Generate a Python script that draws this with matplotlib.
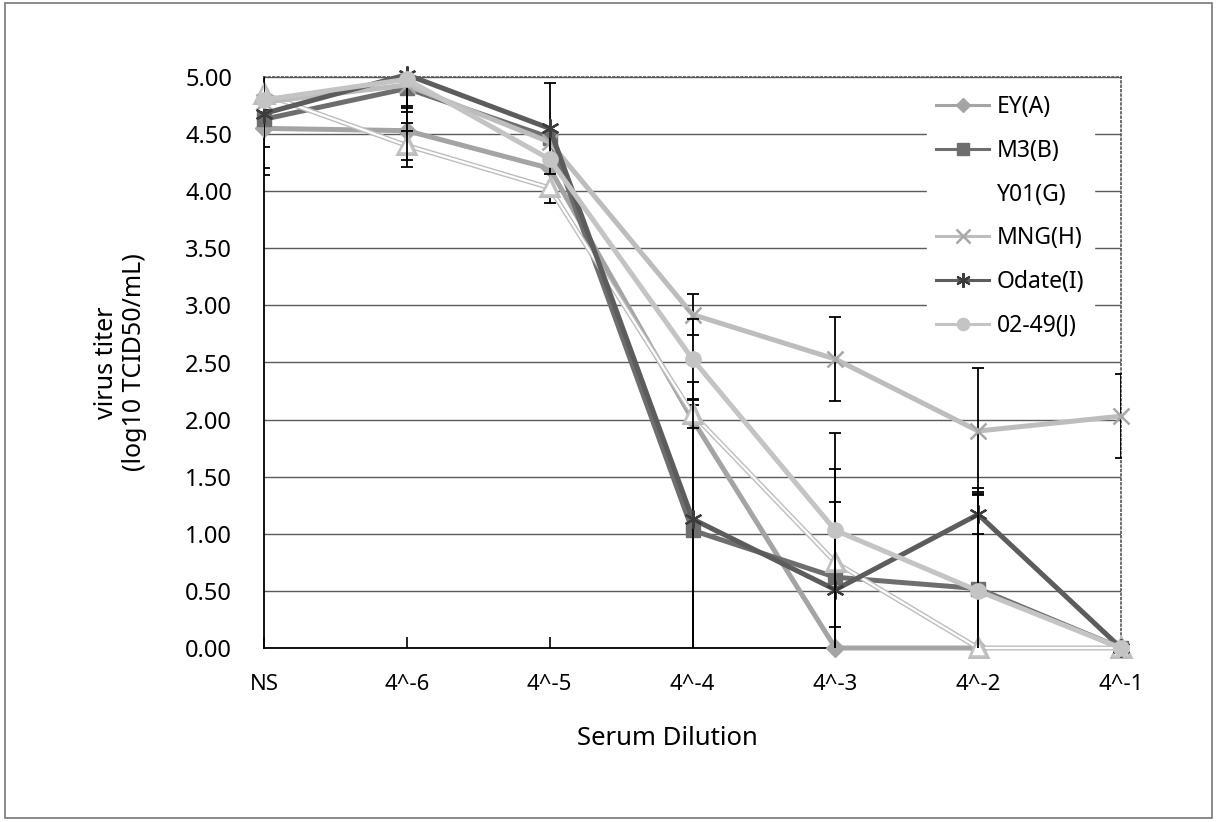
import numpy as np
import matplotlib
matplotlib.use("Agg")
import matplotlib.pyplot as plt
import matplotlib.patheffects as pe
from matplotlib.patches import Rectangle

plt.rcParams['font.family'] = ['Noto Sans', 'DejaVu Sans']

categories = ["NS", "4^-6", "4^-5", "4^-4", "4^-3", "4^-2", "4^-1"]

EY_A = [4.55, 4.53, 4.20, 2.00, 0.00, 0.00, np.nan]
M3_B = [4.63, 4.90, 4.47, 1.03, 0.62, 0.52, 0.00]
Y01_G = [4.85, 4.40, 4.03, 2.05, 0.75, 0.00, 0.00]
MNG_H = [4.78, 4.93, 4.43, 2.92, 2.53, 1.90, 2.03]
Odate_I = [4.68, 5.02, 4.55, 1.13, 0.51, 1.17, 0.00]
J0249 = [4.80, 4.98, 4.28, 2.53, 1.03, 0.50, 0.00]

EY_err = [0.16, 0.20, 0.30, 0, 0, 0, 0]
M3_err = [0.43, 0.21, 0, 1.10, 0.95, 0.85, 0]
Y01_err = [0, 0.13, 0, 0.12, 0, 0, 0]
MNG_err = [0, 0.18, 0, 0.18, 0.37, 0.55, 0.37]
Odate_err = [0.54, 0.42, 0.40, 1.20, 0.77, 0.17, 0]
J_err = [0, 0.77, 0, 0.35, 0.85, 0.90, 0]

fig = plt.figure(figsize=(12.17, 8.22), dpi=100)
ax = fig.add_axes([264/1217, 1-648/822, (1121-264)/1217, (648-77)/822])

x = np.arange(len(categories))

series = [
    ("EY(A)", EY_A, EY_err, dict(color="#a4a4a4", marker="D", ms=9, mfc="#a4a4a4", mec="#a4a4a4")),
    ("M3(B)", M3_B, M3_err, dict(color="#6e6e6e", marker="s", ms=10, mfc="#6e6e6e", mec="#6e6e6e")),
    ("Y01(G)", Y01_G, Y01_err, dict(color="white", marker="^", ms=11, mfc="white", mec="#c4c4c4", mew=1.2)),
    ("MNG(H)", MNG_H, MNG_err, dict(color="#bdbdbd", marker="x", ms=12, mec="#a8a8a8", mew=1.8)),
    ("Odate(I)", Odate_I, Odate_err, dict(color="#5c5c5c", marker=(6, 2, 0), ms=13, mec="#3c3c3c", mew=1.6)),
    ("02-49(J)", J0249, J_err, dict(color="#c4c4c4", marker="o", ms=11, mfc="#c4c4c4", mec="#c4c4c4")),
]

for i, (lab, vals, err, st) in enumerate(series):
    vals = np.array(vals, dtype=float)
    err = np.array(err, dtype=float)
    mask = err > 0
    ax.errorbar(x[mask], vals[mask], yerr=err[mask], fmt="none", ecolor="black",
                elinewidth=1.3, capsize=4.5, capthick=1.3, zorder=3 + i)
    lw = 1.6 if lab == "Y01(G)" else 3.6
    ln, = ax.plot(x, vals, lw=lw, label=lab, clip_on=False, zorder=4 + i, **st)
    if lab == "Y01(G)":
        ln.set_path_effects([pe.Stroke(linewidth=3.6, foreground="#bdbdbd"), pe.Normal()])

ax.set_xlim(0, 6)
ax.set_ylim(0, 5)
yt = np.arange(0, 5.01, 0.5)
ax.set_yticks(yt)
ax.set_yticklabels([f"{v:.2f}" for v in yt])
ax.set_xticks(x)
ax.set_xticklabels(categories)
ax.tick_params(axis="y", length=0, pad=23, labelsize=17)
ax.tick_params(axis="x", direction="in", length=8, width=1.2, pad=19, labelsize=16)
ax.yaxis.grid(True, color="#5a5a5a", lw=1.0)
ax.set_axisbelow(True)
for s in ["left", "bottom"]:
    ax.spines[s].set_color("black")
    ax.spines[s].set_linewidth(1.3)
for s in ["top", "right"]:
    ax.spines[s].set_color("#555555")
    ax.spines[s].set_linestyle(":")
    ax.spines[s].set_linewidth(1.2)

ax.set_xlabel("Serum Dilution", fontsize=18.5)
ax.xaxis.set_label_coords((667 - 264) / 857, -(726 - 648) / 571)
ax.set_ylabel("virus titer\n(log10 TCID50/mL)", fontsize=18, linespacing=1.15)
ax.yaxis.set_label_coords(-(264 - 147) / 857, 0.5)

leg = ax.legend(loc="upper left", bbox_to_anchor=(927/1217, 1-86/822),
                bbox_transform=fig.transFigure, frameon=True, fancybox=False,
                edgecolor="white", facecolor="white", framealpha=1.0,
                fontsize=16.5, handlelength=2.3, handletextpad=0.35,
                labelspacing=0.86, borderpad=0.4, borderaxespad=0)
for lh, (lab, vals, err, st) in zip(leg.get_lines(), series):
    lh.set_linewidth(2.2 if lab != "Y01(G)" else 1.0)
    lh.set_markersize(st.get("ms", 10) * 0.8)
    if lab == "Y01(G)":
        lh.set_path_effects([])
        lh.set_marker("None")

fig.patches.append(Rectangle((5/1217, 1-818/822), 1207/1217, 815/822, transform=fig.transFigure,
                             fill=False, edgecolor="#777777", lw=1.2))

fig.savefig("out.png", dpi=100)
